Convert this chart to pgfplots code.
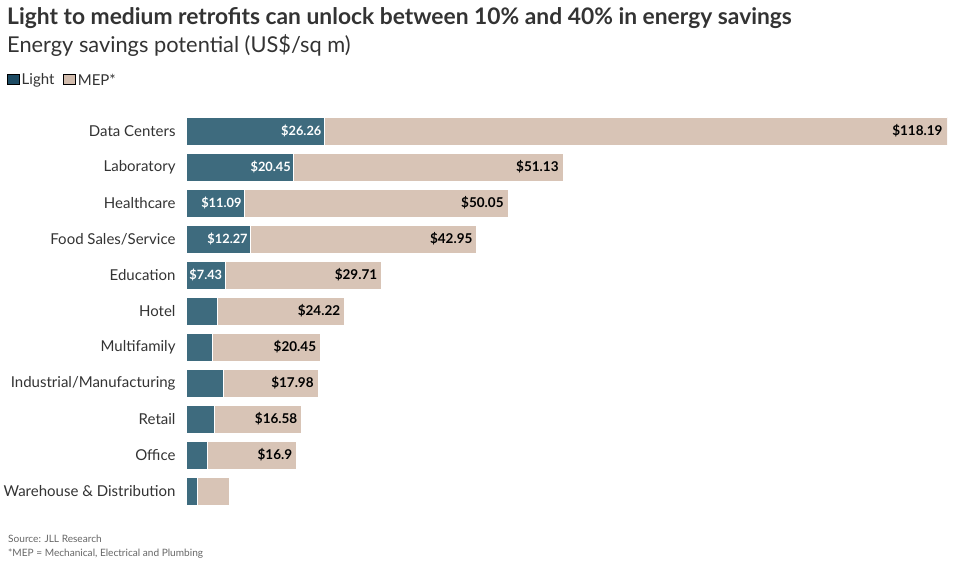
\documentclass[border=0pt]{standalone}
\usepackage{pgfplots}
\pgfplotsset{compat=1.18}
\usepackage{pgfplotstable}
\usepackage{fontspec}
\setmainfont{Lato}
\definecolor{lightc}{HTML}{3E6B7E}
\definecolor{mepc}{HTML}{D8C4B6}
\definecolor{lightleg}{HTML}{1D4B63}
\definecolor{mepleg}{HTML}{D2BCAD}
\definecolor{txt}{HTML}{333333}
\definecolor{note}{HTML}{666666}

% light and MEP savings, US$/sq m
\pgfplotstableread{
y light mep ll ml
0 26.26 118.19 \$26.26 \$118.19
1 20.45 51.13 \$20.45 \$51.13
2 11.09 50.05 \$11.09 \$50.05
3 12.27 42.95 \$12.27 \$42.95
4 7.43 29.71 \$7.43 \$29.71
5 5.9 24.22 {} \$24.22
6 5.1 20.45 {} \$20.45
7 7.1 17.98 {} \$17.98
8 5.4 16.58 {} \$16.58
9 4.1 16.9 {} \$16.9
10 2.2 6.1 {} {}
}\savings

\begin{document}
\begin{tikzpicture}
\useasboundingbox (0pt,0pt) rectangle (955pt,-563pt);
\node[anchor=base west, text=txt, font=\bfseries\fontsize{22.8}{25}\selectfont, inner sep=0pt]
  at (7pt,-24pt) {Light to medium retrofits can unlock between 10\% and 40\% in energy savings};
\node[anchor=base west, text=txt, font=\fontsize{21.8}{25}\selectfont, inner sep=0pt]
  at (7pt,-52pt) {Energy savings potential (US\$/sq m)};
\node[anchor=base west, text=note, font=\fontsize{10.1}{12}\selectfont, inner sep=0pt]
  at (8pt,-542pt) {Source: JLL Research};
\node[anchor=base west, text=note, font=\fontsize{10.1}{12}\selectfont, inner sep=0pt]
  at (8pt,-556pt) {*MEP = Mechanical, Electrical and Plumbing};
\begin{axis}[
  at={(186pt,-113pt)}, anchor=north west,
  scale only axis, width=761pt, height=396pt,
  xmin=0, xmax=144.45, ymin=-0.5, ymax=10.5,
  y dir=reverse,
  xbar, bar shift=0pt, bar width=28pt,
  axis line style={draw=none},
  major tick length=0pt,
  xtick=\empty,
  ytick={0,...,10},
  yticklabels={Data Centers, Laboratory, Healthcare, Food Sales/Service, Education, Hotel, Multifamily, Industrial/Manufacturing, Retail, Office, Warehouse \& Distribution},
  yticklabel style={font=\fontsize{15}{17}\selectfont, text=txt, xshift=-7pt},
  point meta=explicit symbolic,
  nodes near coords,
  every node near coord/.append style={anchor=east, inner sep=0pt, font=\bfseries\fontsize{13.5}{15}\selectfont},
  legend columns=2,
  legend style={at={(-0.239,1.083)}, anchor=west, draw=none, fill=none,
    font=\fontsize{15}{17}\selectfont, text=txt,
    /tikz/every even column/.append style={column sep=7pt}},
  legend image code/.code={\fill[#1] (0pt,-4pt) rectangle (12pt,6pt);},
]
% MEP bar drawn to the total (light + MEP), light bar on top of it
\addplot[forget plot, fill=mepc, draw=white, line width=1pt,
  nodes near coords style={text=black, xshift=-4pt}]
  table[x expr=\thisrow{light}+\thisrow{mep}, y=y, meta=ml] {\savings};
\addplot[forget plot, fill=lightc, draw=white, line width=1pt,
  nodes near coords style={text=white, xshift=-2.5pt, font=\bfseries\fontsize{12.8}{15}\selectfont}]
  table[x=light, y=y, meta=ll] {\savings};
\addlegendimage{fill=lightleg}
\addlegendimage{fill=mepleg}
\legend{Light, MEP*}
\end{axis}
\end{tikzpicture}
\end{document}
